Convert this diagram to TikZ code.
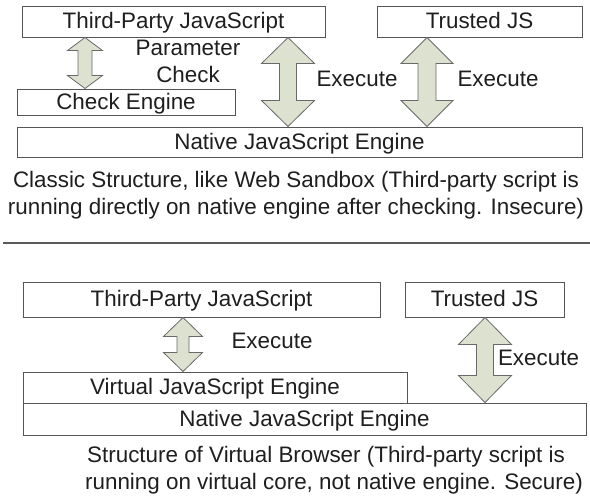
\documentclass[tikz,border=0pt]{standalone}
\usepackage{fontspec}
\setmainfont{Liberation Sans}
\usetikzlibrary{calc}
\definecolor{boxline}{RGB}{85,85,85}
\definecolor{arrfill}{RGB}{221,225,208}
\definecolor{arrline}{RGB}{105,105,105}
\definecolor{txt}{RGB}{30,30,30}
\definecolor{sepline}{RGB}{90,90,90}
% #1 upper node, #2 lower node, #3 x, #4 half head width, #5 half shaft width, #6 head length
\newcommand\dbarrow[6]{%
\path[arrowshape] let \p1=(#1.south), \p2=(#2.north) in
({#3pt},{\y1}) -- ({#3pt+#4pt},{\y1-#6pt}) -- ({#3pt+#5pt},{\y1-#6pt}) --
({#3pt+#5pt},{\y2+#6pt}) -- ({#3pt+#4pt},{\y2+#6pt}) -- ({#3pt},{\y2}) --
({#3pt-#4pt},{\y2+#6pt}) -- ({#3pt-#5pt},{\y2+#6pt}) -- ({#3pt-#5pt},{\y1-#6pt}) --
({#3pt-#4pt},{\y1-#6pt}) -- cycle;}
\begin{document}
\begin{tikzpicture}[x=1pt,y=-1pt,
  every node/.style={text=txt,font=\fontsize{22.4}{27}\selectfont},
  box/.style={draw=boxline,line width=1pt,inner sep=0pt,text height=16pt,text depth=2pt},
  lbl/.style={inner sep=0pt,align=center},
  arrowshape/.style={fill=arrfill,draw=arrline,line width=0.8pt,line join=miter}]
\useasboundingbox (0,0) rectangle (590,496);
% ---- top: classic structure
\node[box,minimum width=303pt,minimum height=31pt] (tp1) at (173.5,21.5) {Third-Party JavaScript};
\node[box,minimum width=205pt,minimum height=31pt] (tj1) at (479.5,21.5) {Trusted JS};
\node[box,minimum width=218pt,minimum height=26pt] (ce) at (126,102) {Check Engine};
\node[box,minimum width=565pt,minimum height=30pt] (ne1) at (299.5,142) {Native JavaScript Engine};
\dbarrow{tp1}{ce}{85}{17.5}{7}{13}
\dbarrow{tp1}{ne1}{288}{26.5}{8.5}{26}
\dbarrow{tj1}{ne1}{427}{26}{9}{26}
\node[lbl] (pc) at (188,61.5) {Parameter\\Check};
\node[lbl] (ex1) at (357,79) {Execute};
\node[lbl] (ex2) at (498,79) {Execute};
\node[lbl] (cap1) at (296,195) {Classic Structure, like Web Sandbox (Third-party script is\\running directly on native engine after checking. Insecure)};
% ---- separator
\coordinate (sepL) at (3,243);
\coordinate (sepR) at (590,243);
\draw[sepline,line width=1.1pt] (sepL) -- (sepR);
% ---- bottom: virtual browser
\node[box,minimum width=357pt,minimum height=35pt] (tp2) at (201.5,299.5) {Third-Party JavaScript};
\node[box,minimum width=159pt,minimum height=35pt] (tj2) at (484.5,299.5) {Trusted JS};
\node[box,minimum width=384pt,minimum height=31pt] (ve) at (215,387.5) {Virtual JavaScript Engine};
\node[box,minimum width=563pt,minimum height=32pt] (ne2) at (304.5,419) {Native JavaScript Engine};
\dbarrow{tp2}{ve}{183}{19.5}{6}{19}
\dbarrow{tj2}{ne2}{485}{26.5}{8.5}{27}
\node[lbl] (ex3) at (272,341) {Execute};
\node[lbl] (ex4) at (538.5,358) {Execute};
\node[lbl] (cap2) at (334,470) {Structure of Virtual Browser (Third-party script is\hspace*{16pt}\\running on virtual core, not native engine. Secure)};
\end{tikzpicture}
\end{document}
